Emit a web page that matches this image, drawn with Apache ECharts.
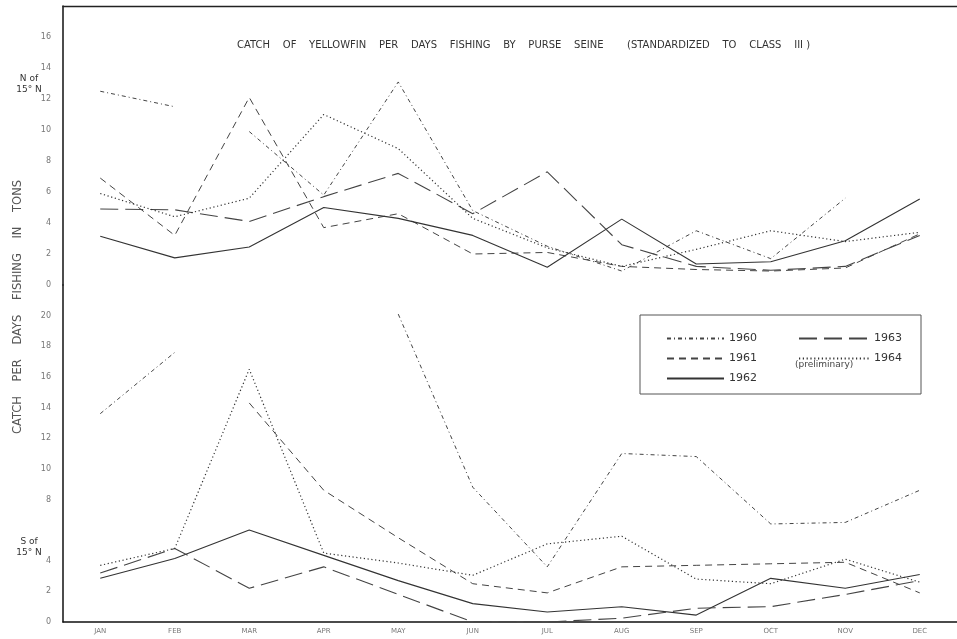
<!DOCTYPE html>
<html>
<head>
<meta charset="utf-8">
<title>Catch of yellowfin per days fishing</title>
<script type="text/javascript" src="https://cdn.jsdelivr.net/npm/echarts/dist/echarts.min.js"></script>
<style>
  body { margin: 0; background: #fff; }
  #main { width: 957px; height: 639px; }
</style>
</head>
<body>
<div id="main"></div>
<script type="text/javascript">
// months on the x axis
var months = ['JAN', 'FEB', 'MAR', 'APR', 'MAY', 'JUN', 'JUL', 'AUG', 'SEP', 'OCT', 'NOV', 'DEC'];

// N of 15° N (upper panel), tons per day's fishing
var north1960a = [12.5, 11.5, null, null, null, null, null, null, null, null, null, null];
var north1960b = [null, null, 9.9, 5.8, 13.1, 4.8, 2.5, 0.9, 3.5, 1.7, 5.6, null];
var north1961 = [6.9, 3.2, 12.1, 3.7, 4.6, 2.0, 2.1, 1.2, 1.0, 0.9, 1.1, 3.3];
var north1962 = [3.15, 1.75, 2.45, 5.0, 4.3, 3.2, 1.15, 4.25, 1.35, 1.5, 2.85, 5.55];
var north1963 = [4.9, 4.85, 4.1, 5.7, 7.2, 4.6, 7.3, 2.6, 1.2, 0.95, 1.2, 3.2];
var north1964 = [5.9, 4.4, 5.6, 11.0, 8.8, 4.3, 2.4, 1.2, 2.3, 3.5, 2.8, 3.4];

// S of 15° N (lower panel)
var south1960a = [13.6, 17.6, null, null, null, null, null, null, null, null, null, null];
var south1960b = [null, null, null, null, 20.1, 8.8, 3.6, 11.0, 10.8, 6.4, 6.5, 8.6];
var south1961 = [null, null, 14.3, 8.6, 5.5, 2.5, 1.9, 3.6, 3.7, 3.8, 3.9, 1.9];
var south1962 = [2.85, 4.15, 6.0, 4.35, 2.7, 1.2, 0.65, 1.0, 0.45, 2.85, 2.2, 3.1];
var south1963 = [3.2, 4.8, 2.2, 3.6, 1.8, 0, 0, 0.25, 0.9, 1.0, 1.8, 2.7];
var south1964 = [3.7, 4.8, 16.5, 4.5, 3.85, 3.05, 5.1, 5.6, 2.8, 2.5, 4.1, 2.6];

// line look for each year
var styles = {
    '1960': { type: [4, 3, 1, 3], color: '#444', width: 1 },
    '1961': { type: [7, 5], color: '#444', width: 1 },
    '1962': { type: 'solid', color: '#333', width: 1.1 },
    '1963': { type: [18, 7], color: '#444', width: 1.1 },
    '1964': { type: [1.2, 2.6], color: '#333', width: 1.2 }
};

function line(name, data, panel) {
    return {
        name: name,
        type: 'line',
        xAxisIndex: panel,
        yAxisIndex: panel,
        data: data,
        symbol: 'none',
        connectNulls: false,
        itemStyle: { color: styles[name].color },
        lineStyle: styles[name]
    };
}

var myChart = echarts.init(document.getElementById('main'));

var labelStyle = { color: '#777', fontSize: 8, fontFamily: 'DejaVu Sans' };
var titleStyle = { fontSize: 10, fontWeight: 'normal', color: '#333', fontFamily: 'DejaVu Sans' };

myChart.setOption({
    animation: false,
    backgroundColor: '#fff',
    title: [
        { text: 'CATCH    OF    YELLOWFIN    PER    DAYS    FISHING    BY    PURSE    SEINE', left: 232, top: 35,
          textStyle: titleStyle },
        { text: '(STANDARDIZED    TO    CLASS    III )', left: 622, top: 35,
          textStyle: titleStyle }
    ],
    grid: [
        { left: 63, top: 6, width: 900, height: 279 },
        { left: 63, top: 285, width: 900, height: 337 }
    ],
    xAxis: [
        { type: 'category', gridIndex: 0, data: months, position: 'top', boundaryGap: true,
          axisLine: { onZero: false, lineStyle: { color: '#222', width: 1.3 } },
          axisTick: { show: false }, axisLabel: { show: false } },
        { type: 'category', gridIndex: 1, data: months, boundaryGap: true,
          axisLine: { onZero: false, lineStyle: { color: '#111', width: 1.5 } },
          axisTick: { inside: true, length: 7, lineStyle: { color: '#222' } },
          axisLabel: { color: '#777', fontSize: 7, margin: 6, fontFamily: 'DejaVu Sans' } }
    ],
    yAxis: [
        { type: 'value', gridIndex: 0, min: 0, max: 18, interval: 1,
          axisLine: { show: true, lineStyle: { color: '#111', width: 1.5 } },
          axisTick: { inside: true, length: 7, lineStyle: { color: '#555' } },
          splitLine: { show: false },
          axisLabel: Object.assign({ margin: 12, formatter: function (v) {
              return (v % 2 === 0 && v < 18) ? v : '';
          } }, labelStyle) },
        { type: 'value', gridIndex: 1, min: 0, max: 22, interval: 1,
          axisLine: { show: true, lineStyle: { color: '#111', width: 1.5 } },
          axisTick: { inside: true, length: 7, lineStyle: { color: '#555' } },
          splitLine: { show: false },
          axisLabel: Object.assign({ margin: 12, formatter: function (v) {
              return (v % 2 === 0 && v < 22 && v !== 6) ? v : '';
          } }, labelStyle) }
    ],
    legend: [
        { data: ['1960', '1961', '1962'], orient: 'vertical', left: 661, top: 328,
          itemWidth: 57, itemHeight: 12, itemGap: 9,
          itemStyle: { opacity: 0 },
          textStyle: { fontSize: 11, color: '#333', fontFamily: 'DejaVu Sans' } },
        { data: ['1963', '1964'], orient: 'vertical', left: 793, top: 328,
          itemWidth: 70, itemHeight: 12, itemGap: 9,
          itemStyle: { opacity: 0 },
          textStyle: { fontSize: 11, color: '#333', fontFamily: 'DejaVu Sans' } }
    ],
    graphic: [
        { type: 'rect', shape: { x: 640, y: 315, width: 281, height: 79 },
          style: { fill: 'none', stroke: '#555', lineWidth: 1 } },
        { type: 'text', x: 795, y: 360,
          style: { text: '(preliminary)', fontSize: 9, fill: '#444', fontFamily: 'DejaVu Sans' } },
        { type: 'text', x: 18, y: 307, rotation: Math.PI / 2,
          style: { text: 'CATCH    PER    DAYS    FISHING    IN    TONS', fontSize: 11.5, fill: '#555',
                   fontFamily: 'DejaVu Sans', align: 'center', verticalAlign: 'middle' } },
        { type: 'text', x: 29, y: 73,
          style: { text: 'N of\n15° N', fontSize: 9, fill: '#333', align: 'center',
                   lineHeight: 11, fontFamily: 'DejaVu Sans' } },
        { type: 'text', x: 29, y: 536,
          style: { text: 'S of\n15° N', fontSize: 9, fill: '#333', align: 'center',
                   lineHeight: 11, fontFamily: 'DejaVu Sans' } }
    ],
    series: [
        line('1960', north1960a, 0),
        line('1960', north1960b, 0),
        line('1961', north1961, 0),
        line('1962', north1962, 0),
        line('1963', north1963, 0),
        line('1964', north1964, 0),
        line('1960', south1960a, 1),
        line('1960', south1960b, 1),
        line('1961', south1961, 1),
        line('1962', south1962, 1),
        line('1963', south1963, 1),
        line('1964', south1964, 1)
    ]
});

window.onresize = function () {
    myChart.resize();
};
</script>
</body>
</html>
